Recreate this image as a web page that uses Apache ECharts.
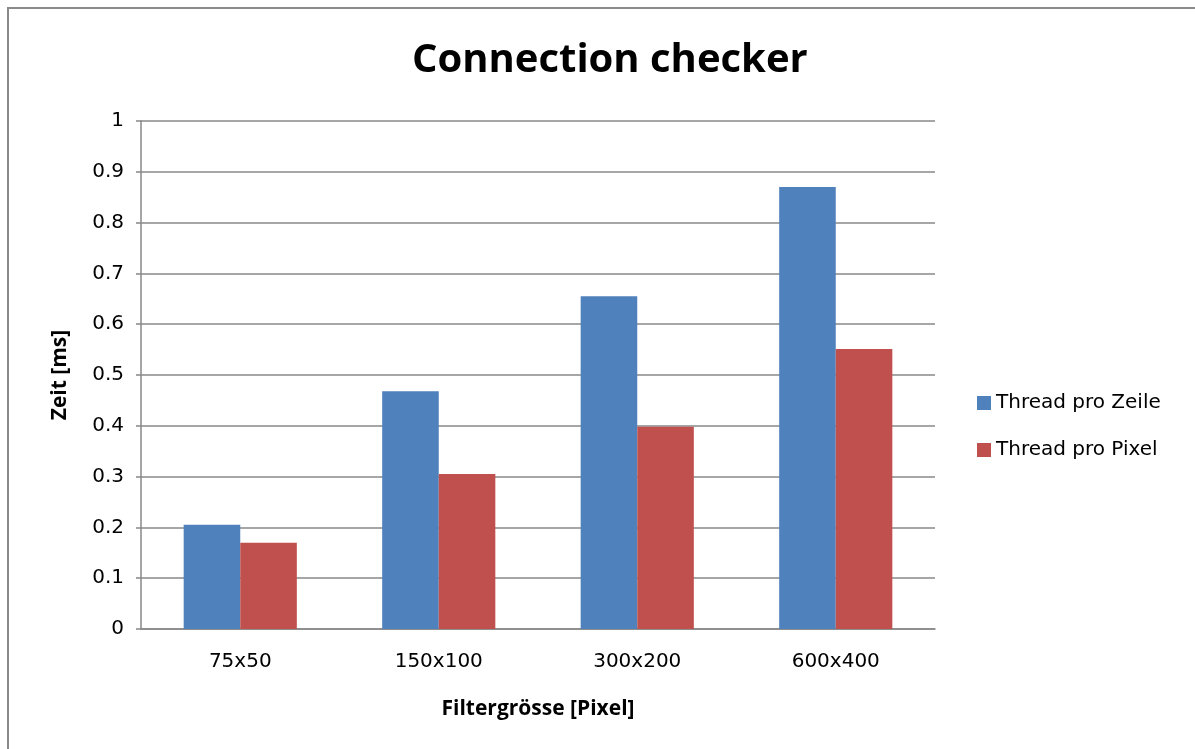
<!DOCTYPE html>
<html><head><meta charset="utf-8">
<script src="https://cdn.jsdelivr.net/npm/echarts@6/dist/echarts.min.js"></script>
<style>html,body{margin:0;padding:0;background:#fff}#c{width:1195px;height:749px}</style>
</head><body><div id="c"></div>
<script>
const categories = ['75x50', '150x100', '300x200', '600x400'];
const threadProZeile = [0.205, 0.468, 0.655, 0.870];
const threadProPixel = [0.170, 0.305, 0.398, 0.551];
const yTicks = [0, 0.1, 0.2, 0.3, 0.4, 0.5, 0.6, 0.7, 0.8, 0.9, 1];

const chart = echarts.init(document.getElementById('c'));
const font = '"Open Sans", "Noto Sans", sans-serif';
const labFont = '"DejaVu Sans", sans-serif';
chart.setOption({
  animation: false,
  backgroundColor: '#fff',
  title: {
    text: 'Connection checker', left: 407, top: 36,
    textStyle: { fontFamily: font, fontWeight: 'bold', fontSize: 40, color: '#000' }
  },
  graphic: [
    { type: 'polyline', shape: { points: [[8, 760], [8, 8], [1200, 8]] },
      style: { stroke: '#8a8a8a', lineWidth: 2, fill: null } }
  ],
  legend: {
    orient: 'vertical', left: 972, top: 388, itemGap: 27, itemWidth: 14, itemHeight: 14,
    icon: 'rect',
    textStyle: { fontFamily: labFont, fontSize: 20, color: '#000' },
    data: ['Thread pro Zeile', 'Thread pro Pixel']
  },
  grid: { left: 141, right: 260, top: 121, bottom: 120 },
  xAxis: {
    type: 'category', data: categories,
    axisLine: { lineStyle: { color: '#888', width: 1.5 } },
    axisTick: { show: false },
    axisLabel: { fontFamily: labFont, fontSize: 20, color: '#000', margin: 23 },
    name: 'Filtergrösse [Pixel]', nameLocation: 'middle', nameGap: 70,
    nameTextStyle: { fontFamily: font, fontWeight: 'bold', fontSize: 21, color: '#000' }
  },
  yAxis: {
    type: 'value', min: 0, max: 1, interval: 0.1,
    axisLine: { show: true, lineStyle: { color: '#888', width: 1.5 } },
    axisTick: { show: true, length: 5, lineStyle: { color: '#888', width: 1.5 } },
    splitLine: { lineStyle: { color: '#888', width: 1.5 } },
    axisLabel: { fontFamily: labFont, fontSize: 20, color: '#000', margin: 17,
      formatter: v => { const t = yTicks.find(x => Math.abs(x - v) < 1e-9); return String(t !== undefined ? t : v); } },
    name: 'Zeit [ms]', nameLocation: 'middle', nameGap: 70, nameRotate: 90,
    nameTextStyle: { fontFamily: font, fontWeight: 'bold', fontSize: 21, color: '#000' }
  },
  series: [
    { name: 'Thread pro Zeile', type: 'bar', data: threadProZeile, barGap: '0%', barCategoryGap: '43%',
      itemStyle: { color: '#4F81BD' } },
    { name: 'Thread pro Pixel', type: 'bar', data: threadProPixel, barGap: '0%', barCategoryGap: '43%',
      itemStyle: { color: '#C0504D' } }
  ]
});
</script></body></html>
